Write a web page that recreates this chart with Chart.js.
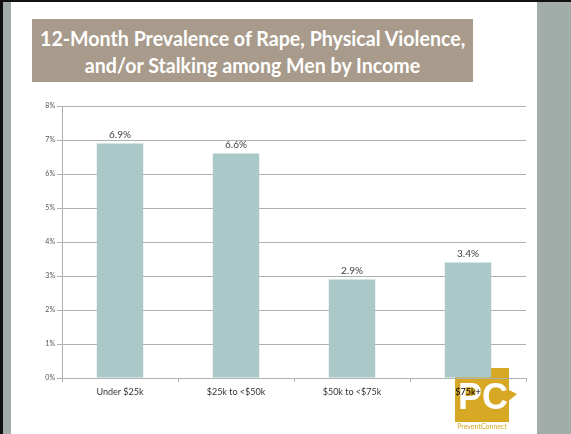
<!DOCTYPE html>
<html>
<head>
<meta charset="utf-8">
<script src="https://cdn.jsdelivr.net/npm/chart.js@4"></script>
<style>
  body { margin: 0; width: 571px; height: 434px; background: #fff; position: relative; overflow: hidden; }
  .topline { position: absolute; left: 0; top: 0; width: 571px; height: 2px; background: #111; }
  .leftline { position: absolute; left: 0; top: 0; width: 3px; height: 434px; background: #111; }
  .leftstrip { position: absolute; left: 3px; top: 2px; width: 8px; height: 432px; background: #a2ada9; }
  .rightstrip { position: absolute; left: 537px; top: 2px; width: 34px; height: 432px; background: #a2ada9; }
  .title { position: absolute; left: 32px; top: 19px; width: 441px; height: 63px; background: #a89b8b;
    color: #fff; font-family: Lato, 'Open Sans', sans-serif; font-weight: bold; font-size: 21px;
    line-height: 27px; text-align: center; padding-top: 5px; box-sizing: border-box; }
  .title span { display: inline-block; white-space: nowrap; transform-origin: center; }
  #wrap { position: absolute; left: 12px; top: 96px; width: 520px; height: 338px; }
</style>
</head>
<body>
<div class="topline"></div>
<div class="leftline"></div>
<div class="leftstrip"></div>
<div class="rightstrip"></div>
<div class="title"><span id="t1">12-Month Prevalence of Rape, Physical Violence,</span><br><span id="t2">and/or Stalking among Men by Income</span></div>
<div id="wrap"><canvas id="chart"></canvas></div>
<script>
const categories = ['Under $25k', '$25k to <$50k', '$50k to <$75k', '$75k+'];
const prevalence = [6.9, 6.6, 2.9, 3.4];
const labelColors = ['#333333', '#333333', '#333333', '#000000'];

// squeeze title lines to the narrow slide font width
const t1 = document.getElementById('t1');
const t2 = document.getElementById('t2');
const k = 425 / t1.offsetWidth;
t1.style.transform = 'scaleX(' + k + ')';
t2.style.transform = 'scaleX(' + k + ')';
t1.style.margin = '0 ' + (-(t1.offsetWidth * (1 - k)) / 2) + 'px';
t2.style.margin = '0 ' + (-(t2.offsetWidth * (1 - k)) / 2) + 'px';

// value labels above each bar
const valueLabels = {
  id: 'valueLabels',
  afterDatasetsDraw(chart) {
    const c = chart.ctx;
    const meta = chart.getDatasetMeta(0);
    c.save();
    c.font = '10px Lato, sans-serif';
    c.fillStyle = '#404040';
    c.textAlign = 'center';
    c.textBaseline = 'bottom';
    meta.data.forEach((bar, i) => {
      c.fillText(prevalence[i].toFixed(1) + '%', bar.x, bar.y - 4);
    });
    c.restore();
  }
};

// PreventConnect logo behind the last bar
const logo = {
  id: 'logo',
  beforeDraw(chart) {
    const c = chart.ctx;
    const x = chart.scales.x.getPixelForValue(3) - 13;
    const y = chart.chartArea.bottom - 10;
    c.save();
    c.fillStyle = '#d6a823';
    c.fillRect(x, y, 54, 54);
    c.beginPath();
    c.moveTo(x + 50, y + 20);
    c.lineTo(x + 62, y + 26);
    c.lineTo(x + 50, y + 36);
    c.fill();
    c.fillStyle = '#ffffff';
    c.font = 'bold 36px "Liberation Sans", sans-serif';
    c.textAlign = 'center';
    c.textBaseline = 'middle';
    c.fillText('PC', x + 28, y + 31);
    c.fillStyle = '#d6a823';
    c.font = '7px Lato, sans-serif';
    c.fillText('PreventConnect', x + 27, y + 59);
    c.restore();
  }
};

new Chart(document.getElementById('chart'), {
  type: 'bar',
  data: {
    labels: categories,
    datasets: [{
      data: prevalence,
      backgroundColor: '#aac8c8',
      barPercentage: 0.8,
      categoryPercentage: 0.5
    }]
  },
  options: {
    responsive: true,
    maintainAspectRatio: false,
    animation: false,
    layout: { padding: { top: 10, right: 6, bottom: 26, left: 0 } },
    plugins: { legend: { display: false }, tooltip: { enabled: false } },
    scales: {
      x: {
        afterFit: (s) => { s.height = 30; },
        grid: { display: true, drawOnChartArea: false, offset: true, tickLength: 4, color: '#b0b0b0' },
        border: { color: '#b0b0b0' },
        ticks: {
          padding: 5,
          font: { family: 'Lato', size: 9 },
          color: labelColors
        }
      },
      y: {
        min: 0,
        max: 8,
        afterFit: (s) => { s.width = 50; },
        grid: { color: '#b0b0b0', tickLength: 5 },
        border: { color: '#b0b0b0' },
        ticks: {
          stepSize: 1,
          padding: 2,
          font: { family: 'Lato', size: 7 },
          color: '#555555',
          callback: (v) => v + '%'
        }
      }
    }
  },
  plugins: [logo, valueLabels]
});
</script>
</body>
</html>
